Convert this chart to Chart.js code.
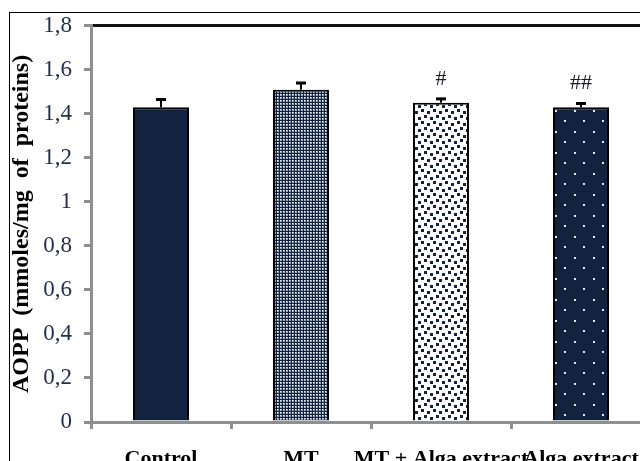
<!DOCTYPE html>
<html>
<head>
<meta charset="utf-8">
<script src="https://cdn.jsdelivr.net/npm/chart.js@4"></script>
<style>
  html, body { margin: 0; padding: 0; background: #fff; overflow: hidden; }
  body { width: 640px; height: 461px; position: relative; }
  #wrap { position: absolute; left: 0; top: 0; width: 670px; height: 461px; }
  #frame { position: absolute; left: 9px; top: 12px; width: 700px; height: 500px;
           border-top: 1px solid #000; border-left: 1px solid #000; pointer-events: none; }
</style>
</head>
<body>
<div id="frame"></div>
<div id="wrap"><canvas id="grafico"></canvas></div>
<script>
const categorias = ['Control', 'MT', 'MT + Alga extract', 'Alga extract'];
const aopp_medias = [1.43, 1.51, 1.45, 1.43];
const aopp_erros = [0.035, 0.03, 0.018, 0.017];
const marcadores = ['', '', '#', '##'];

const azul = '#13233f';

// padroes de preenchimento das barras
function padrao(w, h, desenha) {
    const c = document.createElement('canvas');
    c.width = w;
    c.height = h;
    desenha(c.getContext('2d'));
    return c.getContext('2d').createPattern(c, 'repeat');
}

const pontos_finos = padrao(3, 3, (g) => {
    g.fillStyle = azul;
    g.fillRect(0, 0, 3, 3);
    g.fillStyle = '#9aa6bd';
    g.fillRect(1, 1, 2, 2);
    g.fillStyle = '#ffffff';
    g.fillRect(1, 1, 1, 1);
});

const quadrados = padrao(12, 12, (g) => {
    g.fillStyle = '#ffffff';
    g.fillRect(0, 0, 12, 12);
    g.fillStyle = azul;
    [[1, 1], [7, 3], [4, 7], [10, 9]].forEach(([x, y]) => {
        g.fillRect(x, y, 3, 3);
        if (x + 3 > 12) g.fillRect(x - 12, y, 3, 3);
        if (y + 3 > 12) g.fillRect(x, y - 12, 3, 3);
    });
});

const pontos_esparsos = padrao(19, 21, (g) => {
    g.fillStyle = azul;
    g.fillRect(0, 0, 19, 21);
    g.fillStyle = '#dfe4ee';
    g.fillRect(4, 5, 2, 2);
    g.fillRect(13, 15, 2, 2);
    g.fillStyle = '#ffffff';
    g.fillRect(4, 5, 1, 1);
    g.fillRect(13, 15, 1, 1);
});

const barras_erro = {
    id: 'barras_erro',
    afterDatasetsDraw(chart) {
        const ctx = chart.ctx;
        const y = chart.scales.y;
        const meta = chart.getDatasetMeta(0);
        ctx.save();
        ctx.strokeStyle = '#000';
        ctx.fillStyle = '#1a1a2a';
        ctx.font = '22px "Liberation Serif"';
        ctx.textAlign = 'center';
        ctx.textBaseline = 'middle';
        meta.data.forEach((barra, i) => {
            const topo = y.getPixelForValue(aopp_medias[i]);
            const ponta = y.getPixelForValue(aopp_medias[i] + aopp_erros[i]);
            ctx.lineWidth = 2;
            ctx.beginPath();
            ctx.moveTo(barra.x, topo);
            ctx.lineTo(barra.x, ponta);
            ctx.stroke();
            ctx.lineWidth = 3;
            ctx.beginPath();
            ctx.moveTo(barra.x - 5, ponta);
            ctx.lineTo(barra.x + 5, ponta);
            ctx.stroke();
            if (marcadores[i]) {
                ctx.fillText(marcadores[i], barra.x, ponta - 20);
            }
        });
        ctx.restore();
    }
};

const cinza = '#8f8f8f';

new Chart(document.getElementById('grafico'), {
    type: 'bar',
    data: {
        labels: categorias,
        datasets: [{
            data: aopp_medias,
            backgroundColor: [azul, pontos_finos, quadrados, pontos_esparsos],
            borderColor: '#000',
            borderWidth: 2,
            borderSkipped: 'bottom',
            categoryPercentage: 1,
            barPercentage: 0.4
        }]
    },
    options: {
        responsive: true,
        maintainAspectRatio: false,
        animation: false,
        layout: { padding: { left: 0, top: 23, right: 19, bottom: 0 } },
        plugins: { legend: { display: false }, tooltip: { enabled: false } },
        scales: {
            x: {
                afterFit: (s) => { s.height = 39; },
                grid: {
                    offset: true,
                    drawOnChartArea: false,
                    tickLength: 7,
                    color: cinza,
                    lineWidth: 3
                },
                border: { color: cinza, width: 3 },
                ticks: {
                    autoSkip: false,
                    maxRotation: 0,
                    padding: 17,
                    color: '#000',
                    font: { family: '"Liberation Serif"', size: 22, weight: 'bold' }
                }
            },
            y: {
                min: 0,
                max: 1.8,
                afterFit: (s) => { s.width = 91; },
                grid: {
                    color: (c) => (c.tick && Math.abs(c.tick.value - 1.8) < 1e-6) ? '#111' : 'rgba(0,0,0,0)',
                    lineWidth: 3,
                    tickColor: cinza,
                    tickWidth: 3,
                    tickLength: 7
                },
                border: { color: cinza, width: 3 },
                ticks: {
                    stepSize: 0.2,
                    padding: 12,
                    color: '#1f2c4c',
                    font: { family: '"Liberation Serif"', size: 23 },
                    callback: (v) => {
                        const r = Math.round(v * 10) / 10;
                        return String(r).replace('.', ',');
                    }
                },
                title: {
                    display: true,
                    text: 'AOPP  (mmoles/mg  of  proteins)',
                    color: '#000',
                    padding: { top: 7, bottom: 0 },
                    font: { family: '"Liberation Serif"', size: 24, weight: 'bold' }
                }
            }
        }
    },
    plugins: [barras_erro]
});
</script>
</body>
</html>
